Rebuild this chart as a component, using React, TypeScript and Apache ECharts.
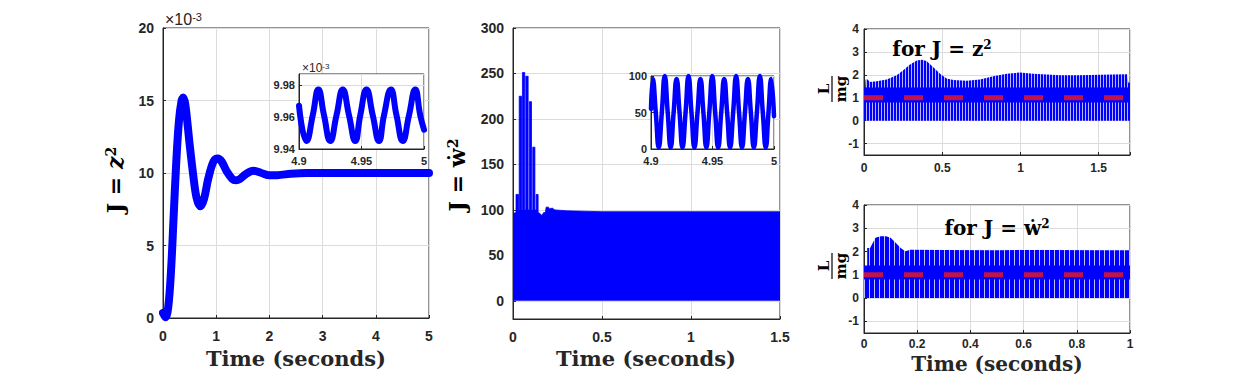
import React, { useEffect, useRef } from 'react';
import * as echarts from 'echarts';

// ---------------- data ----------------
// Panel 1: J = z^2 (values in units of 1e-3)
const zTime = [0, 0.05, 0.1, 0.15, 0.2, 0.25, 0.3, 0.35, 0.38, 0.42, 0.5, 0.57, 0.63, 0.7, 0.77, 0.85, 0.95, 1.03, 1.1, 1.2, 1.3, 1.37, 1.45, 1.55, 1.7, 1.85, 2.0, 2.15, 2.4, 2.7, 5.0];
const zValue = [0.35, 0.05, 0.8, 3.2, 7.0, 10.8, 13.6, 15.0, 15.2, 14.7, 12.0, 9.8, 8.3, 7.7, 8.2, 9.6, 10.8, 11.0, 10.8, 10.1, 9.6, 9.5, 9.6, 9.9, 10.15, 10.0, 9.85, 9.85, 9.95, 10.0, 10.0];
// Inset of panel 1 (4.9 .. 5 s)
const zZoomTime = [4.9, 4.906, 4.911, 4.9155, 4.92, 4.925, 4.93, 4.935, 4.94, 4.945, 4.949, 4.954, 4.959, 4.964, 4.968, 4.9735, 4.978, 4.983, 4.988, 4.993, 4.997, 5.0];
const zZoomValue = [9.967, 9.945, 9.961, 9.977, 9.961, 9.945, 9.961, 9.977, 9.961, 9.945, 9.961, 9.977, 9.961, 9.945, 9.961, 9.977, 9.961, 9.945, 9.961, 9.977, 9.961, 9.952];

// Panel 2: J = wdot^2, upper envelope of the dense oscillation (lower edge is 0)
const wdotTime = [0, 0.017, 0.017, 0.031, 0.031, 0.035, 0.035, 0.048, 0.048, 0.053, 0.053, 0.066, 0.066, 0.072, 0.072, 0.085, 0.085, 0.092, 0.092, 0.104, 0.104, 0.111, 0.111, 0.123, 0.123, 0.13, 0.13, 0.141, 0.141, 0.152, 0.158, 0.166, 0.172, 0.182, 0.186, 0.2, 0.205, 0.22, 0.235, 0.3, 0.5, 1.5];
const wdotValue = [96, 97, 117, 117, 100, 100, 225, 225, 100, 100, 251, 251, 100, 100, 247, 247, 100, 100, 219, 219, 100, 100, 169, 169, 100, 100, 117, 117, 97, 96, 94, 95, 97, 97, 103, 103, 101, 102, 100, 99, 98, 98];
// Inset of panel 2 (4.9 .. 5 s)
const wdotZoomTime = [4.9, 4.9015, 4.9039, 4.9063, 4.9088, 4.9112, 4.9136, 4.916, 4.9184, 4.9208, 4.9232, 4.9256, 4.9281, 4.9305, 4.9329, 4.9353, 4.9378, 4.9402, 4.9426, 4.945, 4.9474, 4.9498, 4.9522, 4.9546, 4.9571, 4.9595, 4.9619, 4.9643, 4.9668, 4.9692, 4.9716, 4.974, 4.9764, 4.9788, 4.9812, 4.9836, 4.9861, 4.9885, 4.9909, 4.9933, 4.9955, 4.9977, 5.0];
const wdotZoomValue = [55, 96, 50, 2, 50, 100, 50, 2, 50, 96, 50, 2, 50, 100, 50, 2, 50, 96, 50, 2, 50, 100, 50, 2, 50, 96, 50, 2, 50, 100, 50, 2, 50, 96, 50, 2, 50, 100, 50, 2, 50, 96, 45];

// Panel 3: L/mg for J = z^2 (upper envelope, oscillation down to 0)
const lzTime = [0, 0.006, 0.01, 0.023, 0.038, 0.081, 0.145, 0.209, 0.251, 0.294, 0.337, 0.369, 0.4, 0.443, 0.486, 0.528, 0.571, 0.656, 0.741, 0.826, 0.912, 0.997, 1.082, 1.167, 1.252, 1.38, 1.508, 1.68, 1.69, 1.7];
const lzValue = [1.2, 1.25, 1.8, 1.8, 1.69, 1.72, 1.8, 1.98, 2.2, 2.45, 2.62, 2.66, 2.6, 2.33, 2.05, 1.84, 1.77, 1.74, 1.8, 1.94, 2.05, 2.1, 2.05, 2.01, 1.98, 1.98, 2.0, 2.02, 1.65, 1.65];
const lzCoreTime = [0, 1.7];
const lzCoreValue = [1.12, 1.12];

// Panel 4: L/mg for J = wdot^2
const lwTime = [0, 0.012, 0.012, 0.023, 0.043, 0.063, 0.083, 0.1, 0.12, 0.138, 0.155, 0.175, 0.3, 0.5, 0.7, 0.9, 1.0];
const lwValue = [1.2, 1.2, 2.15, 2.15, 2.59, 2.66, 2.66, 2.59, 2.37, 2.15, 2.01, 2.08, 2.07, 2.06, 2.07, 2.06, 2.06];
const lwCoreTime = [0, 1.0];
const lwCoreValue = [1.1, 1.1];

const refLevel = 1;

// ---------------- style ----------------
const BLUE = '#0000ff';
const AXIS = '#262626';
const GRIDC = '#dcdcdc';
const RED = '#c0134c';
const SANS = "'Liberation Sans', Arial, sans-serif";
const SERIF = "'DejaVu Serif', serif";

const pairs = (t: number[], v: number[]) => t.map((x, i) => [x, v[i]]);
const fmt = (v: number) => String(parseFloat(v.toFixed(3)));

function stripe(period: number, light: string) {
  const c = document.createElement('canvas');
  c.width = period;
  c.height = 4;
  const ctx = c.getContext('2d')!;
  ctx.fillStyle = BLUE;
  ctx.fillRect(0, 0, period, 4);
  ctx.fillStyle = light;
  ctx.fillRect(period - 1, 0, 1, 4);
  return { image: c.toDataURL(), repeat: 'repeat', imageWidth: period, imageHeight: 4 };
}

function axis(o: any) {
  const { gridIndex, min, max, interval, size, margin, z, formatter } = o;
  return {
    type: 'value',
    gridIndex,
    min,
    max,
    interval,
    z,
    axisLine: { show: true, onZero: false, lineStyle: { color: AXIS, width: 1 } },
    axisTick: { show: true, inside: true, length: 3, lineStyle: { color: AXIS } },
    axisLabel: {
      color: AXIS,
      fontFamily: SANS,
      fontWeight: 'bold',
      fontSize: size,
      margin,
      formatter: formatter || ((v: number) => fmt(v)),
    },
    splitLine: { show: true, lineStyle: { color: GRIDC, width: 1 } },
  };
}

const intOnly = (v: number) => (Math.abs(v - Math.round(v)) < 1e-9 ? String(Math.round(v)) : '');
const halfOnly = (v: number) => (Math.abs(v * 2 - Math.round(v * 2)) < 1e-9 ? fmt(v) : '');
const nonNeg = (v: number) => (v < 0 ? '' : fmt(v));

function richText(x: number, y: number, text: string, rich: any, opts: any = {}) {
  return {
    type: 'text',
    x,
    y,
    z: 100,
    rotation: opts.rotate ? Math.PI / 2 : 0,
    style: {
      text,
      align: opts.align || 'center',
      verticalAlign: opts.verticalAlign || 'middle',
      rich,
    },
  };
}

function latexRich(size: number) {
  return {
    a: { fontFamily: SERIF, fontWeight: 'bold', fontSize: size, fill: '#000' },
    i: { fontFamily: SERIF, fontWeight: 'bold', fontStyle: 'italic', fontSize: size, fill: '#000' },
    s: { fontFamily: SERIF, fontWeight: 'bold', fontSize: Math.round(size * 0.62), fill: '#000', verticalAlign: 'top' },
  };
}

function latex(x: number, y: number, text: string, size: number, rotate = false) {
  return richText(x, y, text, latexRich(size), { rotate });
}

// rotated fraction L / mg, built from top-level elements
function frac(x: number, y: number) {
  const rich = { a: { fontFamily: SERIF, fontWeight: 'bold', fontSize: 15, fill: '#000' } };
  return [
    richText(x - 1, y, '{a|L}', rich, { rotate: true, verticalAlign: 'bottom' }),
    richText(x + 1, y, '{a|mg}', rich, { rotate: true, verticalAlign: 'top' }),
    { type: 'line', z: 100, shape: { x1: x, y1: y - 13, x2: x, y2: y + 13 }, style: { stroke: '#000', lineWidth: 1.2 } },
  ];
}

function timeLabel(x: number, y: number, size = 21) {
  return richText(x, y, '{a|Time (seconds)}', {
    a: { fontFamily: SERIF, fontWeight: 'bold', fontSize: size, fill: AXIS },
  });
}

function exponent(x: number, y: number, size: number) {
  return richText(
    x,
    y,
    '{a|×10}{s|-3}',
    {
      a: { fontFamily: SANS, fontSize: size, fill: AXIS },
      s: { fontFamily: SANS, fontSize: Math.round(size * 0.7), fill: AXIS, verticalAlign: 'top' },
    },
    { align: 'left', verticalAlign: 'bottom' },
  );
}

export default function App() {
  const ref = useRef<HTMLDivElement>(null);

  useEffect(() => {
    document.body.style.margin = '0';
    if (!ref.current) return;
    const chart = echarts.init(ref.current, undefined, { renderer: 'svg' });

    const gridBase = { show: true, backgroundColor: '#fff', borderColor: AXIS, borderWidth: 1, containLabel: false, outerBoundsMode: 'none' };

    const option: any = {
      animation: false,
      backgroundColor: '#fff',
      grid: [
        { ...gridBase, left: 163, top: 28, width: 266, height: 290 },
        { ...gridBase, left: 299, top: 74, width: 125, height: 75, z: 10 },
        { ...gridBase, left: 513, top: 28, width: 267, height: 291 },
        { ...gridBase, left: 651, top: 76, width: 123, height: 73, z: 10 },
        { ...gridBase, left: 864, top: 29, width: 266, height: 126 },
        { ...gridBase, left: 864, top: 205, width: 266, height: 128 },
      ],
      xAxis: [
        axis({ gridIndex: 0, min: 0, max: 5, interval: 1, size: 14, margin: 11 }),
        axis({ gridIndex: 1, min: 4.9, max: 5, interval: 0.05, size: 11, margin: 6, z: 11 }),
        axis({ gridIndex: 2, min: 0, max: 1.5, interval: 0.5, size: 14, margin: 11 }),
        axis({ gridIndex: 3, min: 4.9, max: 5, interval: 0.05, size: 11, margin: 6, z: 11 }),
        axis({ gridIndex: 4, min: 0, max: 1.7, interval: 0.5, size: 12, margin: 7, formatter: halfOnly }),
        axis({ gridIndex: 5, min: 0, max: 1, interval: 0.2, size: 12, margin: 5 }),
      ],
      yAxis: [
        axis({ gridIndex: 0, min: 0, max: 20, interval: 5, size: 14, margin: 9 }),
        axis({ gridIndex: 1, min: 9.94, max: 9.9867, interval: 0.02, size: 11, margin: 4, z: 11, formatter: (v: number) => v.toFixed(2) }),
        axis({ gridIndex: 2, min: -20, max: 300, size: 14, margin: 9, formatter: nonNeg }),
        axis({ gridIndex: 3, min: 0, max: 100, interval: 50, size: 11, margin: 4, z: 11 }),
        axis({ gridIndex: 4, min: -1.5, max: 4, size: 12, margin: 5, formatter: intOnly }),
        axis({ gridIndex: 5, min: -1.5, max: 4, size: 12, margin: 5, formatter: intOnly }),
      ],
      series: [
        {
          type: 'line', xAxisIndex: 0, yAxisIndex: 0, data: pairs(zTime, zValue),
          smooth: 0.35, showSymbol: false, lineStyle: { color: BLUE, width: 8, cap: 'round', join: 'round' },
        },
        {
          type: 'line', xAxisIndex: 1, yAxisIndex: 1, z: 12, data: pairs(zZoomTime, zZoomValue),
          smooth: 0.5, showSymbol: false, lineStyle: { color: BLUE, width: 6, cap: 'round' },
        },
        {
          type: 'line', xAxisIndex: 2, yAxisIndex: 2, data: pairs(wdotTime, wdotValue),
          showSymbol: false, lineStyle: { color: BLUE, width: 0.8 },
          areaStyle: { color: BLUE, opacity: 1, origin: 0 },
        },
        {
          type: 'line', xAxisIndex: 3, yAxisIndex: 3, z: 12, data: pairs(wdotZoomTime, wdotZoomValue),
          smooth: 0.5, showSymbol: false, lineStyle: { color: BLUE, width: 4.5, cap: 'round' },
        },
        {
          type: 'line', xAxisIndex: 4, yAxisIndex: 4, data: pairs(lzTime, lzValue),
          showSymbol: false, lineStyle: { width: 0, opacity: 0 },
          areaStyle: { color: stripe(3, '#b4b4ff'), opacity: 1, origin: 0 },
        },
        {
          type: 'line', xAxisIndex: 4, yAxisIndex: 4, data: pairs(lzCoreTime, lzCoreValue),
          showSymbol: false, lineStyle: { color: BLUE, width: 15, cap: 'butt' },
        },
        {
          type: 'line', xAxisIndex: 4, yAxisIndex: 4, z: 5, data: [[0, refLevel], [1.7, refLevel]],
          showSymbol: false, lineStyle: { color: RED, width: 5, type: [19, 21] },
        },
        {
          type: 'line', xAxisIndex: 5, yAxisIndex: 5, data: pairs(lwTime, lwValue),
          showSymbol: false, lineStyle: { width: 0, opacity: 0 },
          areaStyle: { color: stripe(5, '#c0c0ff'), opacity: 1, origin: 0 },
        },
        {
          type: 'line', xAxisIndex: 5, yAxisIndex: 5, data: pairs(lwCoreTime, lwCoreValue),
          showSymbol: false, lineStyle: { color: BLUE, width: 14, cap: 'butt' },
        },
        {
          type: 'line', xAxisIndex: 5, yAxisIndex: 5, z: 5, data: [[0, refLevel], [1, refLevel]],
          showSymbol: false, lineStyle: { color: RED, width: 5, type: [19, 21] },
        },
      ],
      graphic: [
        exponent(165, 27, 16),
        exponent(302, 74, 12),
        latex(115, 180, '{a|J = }{i|z}{s|2}', 22, true),
        latex(457, 175, '{a|J = ẇ}{s|2}', 22, true),
        ...frac(832, 89),
        ...frac(832, 266),
        latex(942, 49, '{a|for J = z}{s|2}', 20),
        latex(997, 228, '{a|for J = ẇ}{s|2}', 20),
        timeLabel(296, 358),
        timeLabel(646, 358),
        timeLabel(997, 364, 20),
      ],
    };

    chart.setOption(option);
    return () => chart.dispose();
  }, []);

  return <div ref={ref} style={{ width: 1250, height: 375 }} />;
}
